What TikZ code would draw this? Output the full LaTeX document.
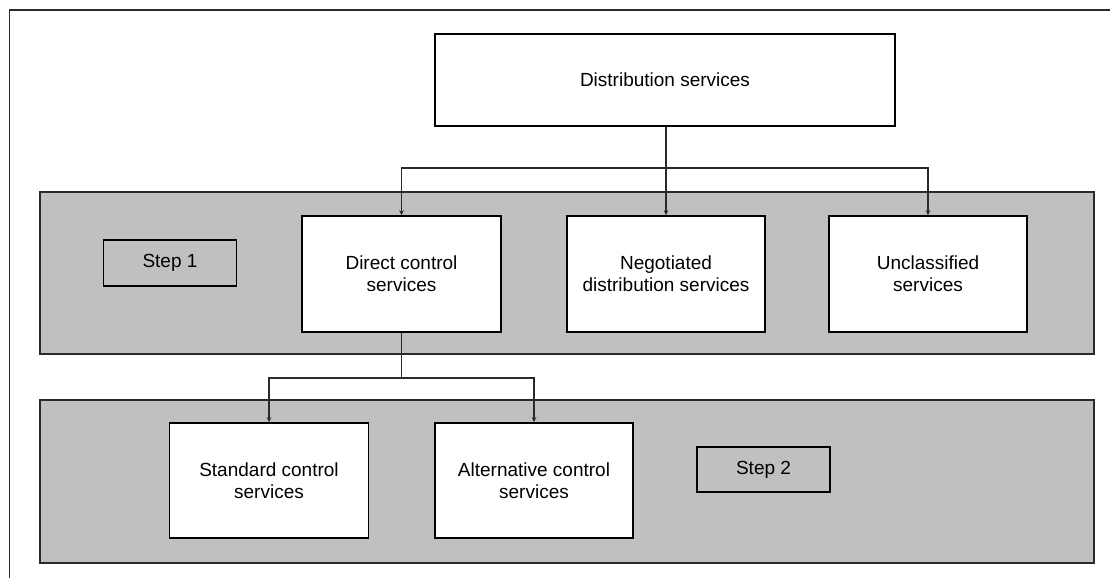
\documentclass[tikz,border=0pt]{standalone}
\usepackage{fontspec}
\setmainfont{Liberation Sans}
\usetikzlibrary{arrows.meta}
\definecolor{bandgray}{HTML}{C0C0C0}
\definecolor{linegray}{HTML}{2A2A2A}
\begin{document}
\begin{tikzpicture}[x=1pt,y=-1pt,
  every node/.append style={font=\fontsize{19}{22}\selectfont},
  band/.style={draw=linegray,line width=1.5pt,fill=bandgray,rectangle,inner sep=0pt,minimum width=1054pt},
  box/.style={draw=black,line width=1.6pt,fill=white,rectangle,inner sep=0pt,align=center,minimum width=199pt,minimum height=116pt},
  steplabel/.style={draw=black,line width=1.6pt,fill=bandgray,rectangle,inner sep=0pt,minimum width=133pt,minimum height=46pt},
  conn/.style={draw=linegray,line width=1.2pt},
  arr/.style={conn,-{Stealth[length=5pt,width=4.5pt]}}
]
\useasboundingbox (0,0) rectangle (1110,578);
\fill[white] (0,0) rectangle (1110,578);
% outer frame (top and left edges visible)
\coordinate (frameTR) at (1110,10);
\coordinate (frameTL) at (9.5,10);
\coordinate (frameBL) at (9.5,578);
\draw[linegray,line width=1.5pt] (frameTR) -- (frameTL) -- (frameBL);

% bands
\node[band,minimum height=162pt] (band1) at (567,273) {};
\node[band,minimum height=163pt] (band2) at (567,481.5) {};

% boxes
\node[box,minimum width=460pt,minimum height=92pt] (dist) at (665,80) {Distribution services};
\node[steplabel] (step1) at (170,263) {Step 1};
\node[box] (direct) at (401.5,274) {Direct control\\services};
\node[box,minimum width=198pt] (nego) at (666,274) {Negotiated\\distribution services};
\node[box,minimum width=198pt] (uncl) at (928,274) {Unclassified\\services};
\node[box,minimum height=115pt] (std) at (269,480.5) {Standard control\\services};
\node[box,minimum width=198pt,minimum height=115pt] (alt) at (534,480.5) {Alternative control\\services};
\node[steplabel,minimum height=45pt] (step2) at (763.5,469.5) {Step 2};

% connectors level 1
\coordinate (j1) at (666,168);
\draw[conn] (dist.south -| j1) -- (j1);
\draw[arr] (j1) -- (nego.north);
\draw[arr] (j1) -| (direct.north);
\draw[arr] (j1) -| (uncl.north);

% connectors level 2
\coordinate (j2) at (401.5,378);
\draw[conn] (direct.south) -- (j2);
\draw[arr] (j2) -| (std.north);
\draw[arr] (j2) -| (alt.north);
\end{tikzpicture}
\end{document}
